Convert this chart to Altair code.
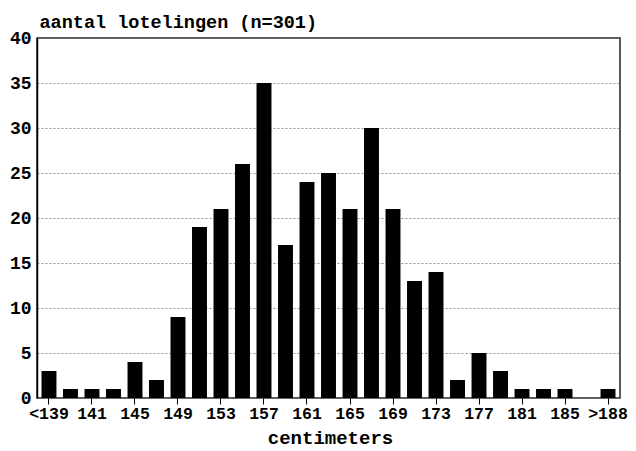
import altair as alt
import pandas as pd

categories = ["<139", "139", "141", "143", "145", "147", "149", "151", "153", "155",
              "157", "159", "161", "163", "165", "167", "169", "171", "173", "175",
              "177", "179", "181", "183", "185", "187", ">188"]
counts = [3, 1, 1, 1, 4, 2, 9, 19, 21, 26, 35, 17, 24, 25, 21, 30, 21, 13, 14, 2,
          5, 3, 1, 1, 1, 0, 1]
shown_labels = ["<139", "141", "145", "149", "153", "157", "161", "165", "169",
                "173", "177", "181", "185", ">188"]
y_ticks = [0, 5, 10, 15, 20, 25, 30, 35, 40]

df = pd.DataFrame({"lengte": categories, "aantal": counts})

FONT = "Liberation Mono"

chart = alt.Chart(df).mark_bar(color="black").encode(
    x=alt.X("lengte:N", sort=categories,
            scale=alt.Scale(paddingInner=0.305, paddingOuter=0.21),
            axis=alt.Axis(title="centimeters", values=shown_labels, labelAngle=0,
                          labelFont=FONT, labelFontSize=16.5, labelFontWeight="bold",
                          labelColor="black",
                          labelPadding=1, tickSize=6, tickColor="black",
                          domain=False, grid=False,
                          titleFont=FONT, titleFontSize=19, titleFontWeight="bold",
                          titleColor="black", titleX=293, titleY=45,
                          titleBaseline="alphabetic", titleAlign="center")),
    y=alt.Y("aantal:Q", scale=alt.Scale(domain=[0, 40], nice=False),
            axis=alt.Axis(title="aantal lotelingen (n=301)", values=y_ticks,
                          labelFont=FONT, labelFontSize=18, labelFontWeight="bold",
                          labelColor="black", labelPadding=6, ticks=False,
                          domain=True, domainColor="black", domainWidth=1.5,
                          grid=True, gridColor="#777", gridDash=[2, 2],
                          gridWidth=0.8,
                          titleFont=FONT, titleFontSize=18.5, titleFontWeight="bold",
                          titleColor="black", titleAngle=0, titleX=2, titleY=-11,
                          titleAlign="left", titleBaseline="alphabetic")),
).properties(
    width=583, height=360,
    autosize=alt.AutoSizeParams(type="none"),
    padding={"left": 29, "top": 30, "right": 8, "bottom": 52},
).configure_view(stroke="#222", strokeWidth=1.5)

chart.save("out.html", embed_options={"renderer": "svg", "actions": False})
